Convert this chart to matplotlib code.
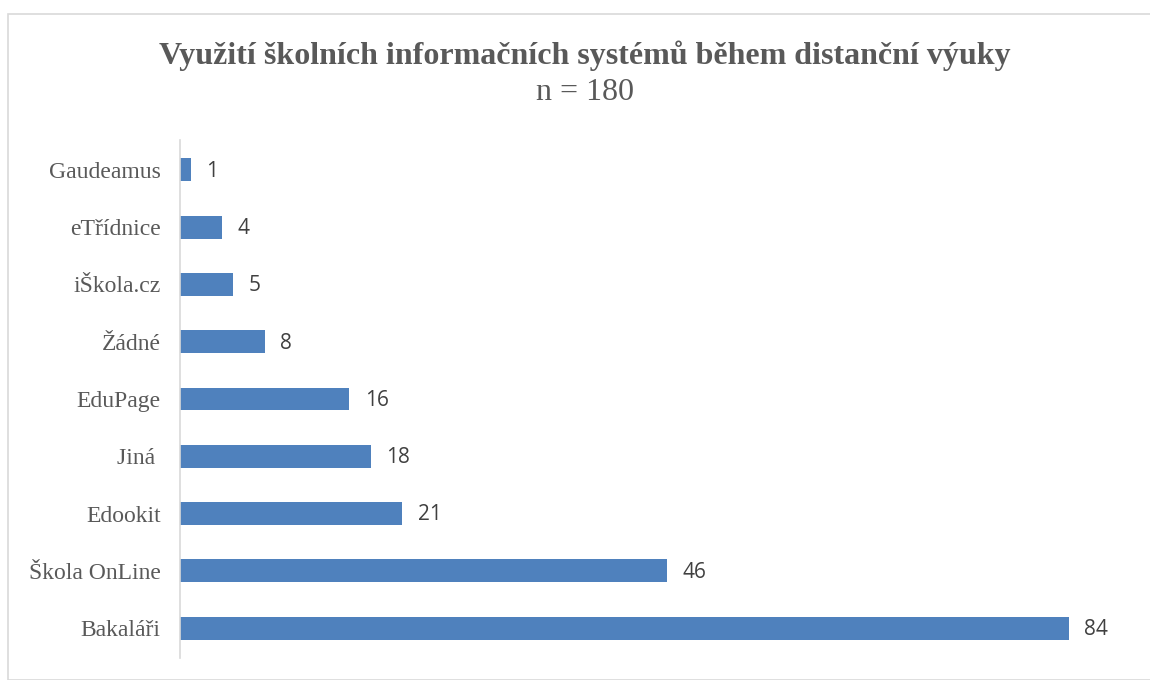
import matplotlib
matplotlib.use("Agg")
import matplotlib.pyplot as plt
from matplotlib.patches import Rectangle

categories = ["Bakaláři", "Škola OnLine", "Edookit", "Jiná ", "EduPage", "Žádné", "iŠkola.cz", "eTřídnice", "Gaudeamus"]
values = [84, 46, 21, 18, 16, 8, 5, 4, 1]
title = "Využití školních informačních systémů během distanční výuky"
subtitle = "n = 180"

W, H = 1150, 680
fig = plt.figure(figsize=(W / 100, H / 100), dpi=100)
fig.patch.set_facecolor("white")

# chart border
fig.patches.append(Rectangle((8 / W, 0), 1.2, (H - 14) / H, transform=fig.transFigure,
                             fill=False, edgecolor="#D9D9D9", linewidth=1.2))

xmax = 90
left_px, right_px = 180, 180 + xmax * (1069 - 180) / 84
top_px, bot_px = 140, 658
ax = fig.add_axes([left_px / W, 1 - bot_px / H, (right_px - left_px) / W, (bot_px - top_px) / H])

txt = "#595959"
y = range(len(categories))
ax.barh(y, values, height=0.4, color="#4F81BD")
ax.set_xlim(0, xmax)
ax.set_ylim(-0.52, len(categories) - 0.48)
ax.set_yticks(list(y))
ax.set_yticklabels(categories, fontfamily="Liberation Serif", fontsize=17, color=txt)
ax.tick_params(axis="y", length=0, pad=14)
ax.set_xticks([])
for s in ["top", "right", "bottom"]:
    ax.spines[s].set_visible(False)
ax.spines["left"].set_color("#D9D9D9")
ax.spines["left"].set_linewidth(1.2)

for i, v in enumerate(values):
    ax.annotate(str(v), (v, i), xytext=(11, -1), textcoords="offset points",
                va="center", ha="left", fontsize=15, color="#404040", fontfamily="Open Sans")

fig.text(585 / W, 1 - 56 / H, title, ha="center", va="center", fontfamily="Liberation Serif",
         fontweight="bold", fontsize=23, color=txt)
fig.text(585 / W, 1 - 93 / H, subtitle, ha="center", va="center", fontfamily="Liberation Serif",
         fontsize=23, color=txt)

fig.savefig("out.png", dpi=100)
